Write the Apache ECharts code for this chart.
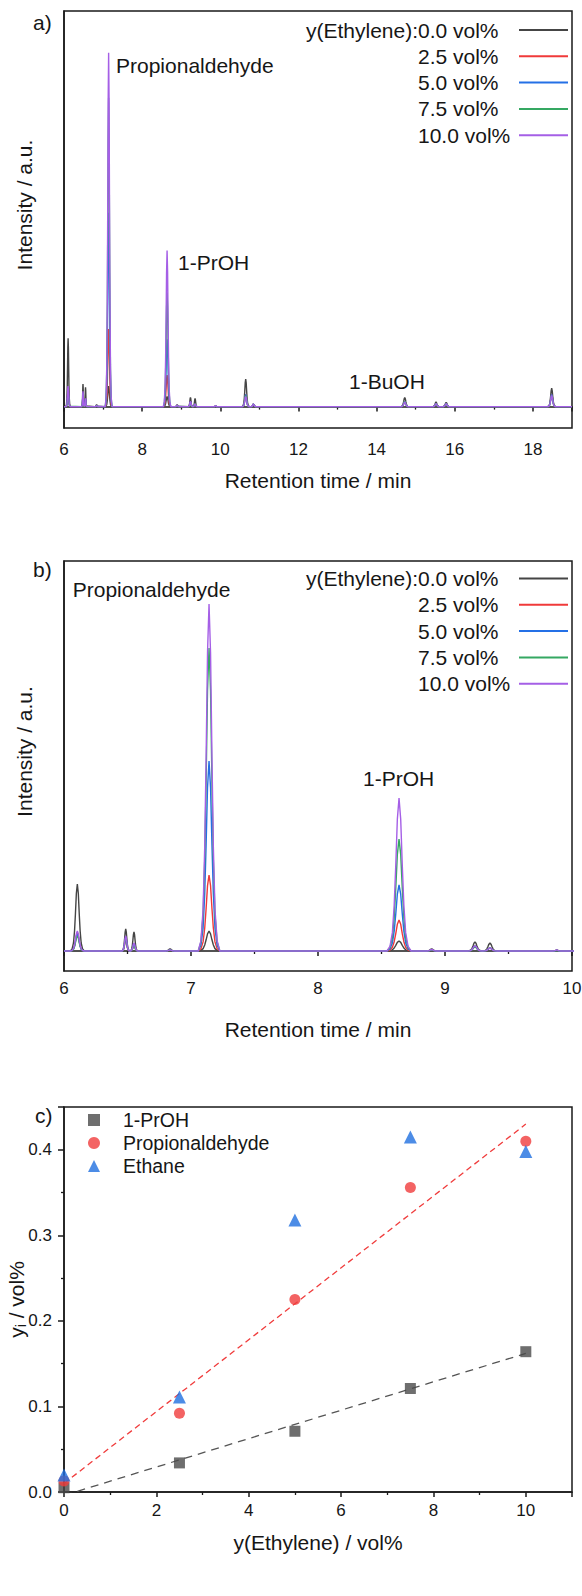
<!DOCTYPE html>
<html><head><meta charset="utf-8">
<script src="https://cdn.jsdelivr.net/npm/echarts@6/dist/echarts.min.js"></script>
<style>html,body{margin:0;padding:0;background:#fff}#c{width:582px;height:1596px}</style>
</head><body><div id="c"></div>
<script>
// ---------- chromatogram data (panels a and b share the same traces) ----------
const concentrations = ['0.0 vol%', '2.5 vol%', '5.0 vol%', '7.5 vol%', '10.0 vol%'];
const traceColors = ['#454545', '#f03a3a', '#2470e6', '#35a862', '#a55fe6'];
const peakTimes      = [6.105, 6.486, 6.551, 6.835, 7.142, 8.638, 8.895, 9.236, 9.354, 9.88, 10.65, 10.85, 14.72, 15.52, 15.78, 18.48];
const peakHalfWidths = [0.055, 0.0325, 0.0325, 0.045, 0.085, 0.095, 0.05, 0.058, 0.058, 0.04, 0.09, 0.06, 0.1, 0.09, 0.09, 0.1];
const heights00  = [67, 22, 19, 2, 20, 10, 2, 9, 8, 1, 27, 2, 9, 4.5, 4, 18];
const heights25  = [18, 11, 6, 1, 76, 31, 1, 5, 3, 0.5, 12, 3, 5, 3, 3, 12];
const heights50  = [17, 13, 7, 1, 190, 66, 1, 5, 3, 0.5, 12, 3, 5, 3, 3, 12];
const heights75  = [15, 13, 5, 1, 303, 112, 1, 4, 3, 0.5, 11, 3, 5, 3, 3, 11];
const heights100 = [20, 15, 8, 1, 347, 153, 1.5, 5, 3, 1, 10, 3, 4.5, 3, 3, 11];
const peakShapeOffsets = [-1, -0.75, -0.55, -0.4, -0.27, -0.14, 0, 0.14, 0.27, 0.4, 0.55, 0.75, 1];
const peakShapeLevels  = [0, 0.03, 0.12, 0.3, 0.56, 0.86, 1, 0.86, 0.56, 0.3, 0.12, 0.03, 0];
const timeRange = [6, 19];

// ---------- panel c data ----------
const ethyleneFeed = [0, 2.5, 5, 7.5, 10];
const propanol = [0.005, 0.034, 0.071, 0.121, 0.164];
const propionaldehyde = [0.013, 0.092, 0.225, 0.356, 0.410];
const ethane = [0.020, 0.111, 0.318, 0.415, 0.398];
const fitX = [0, 10];
const propanolFit = [-0.004, 0.162];
const propionaldehydeFit = [0.010, 0.430];

const FONT = '"Liberation Sans", Arial, sans-serif';
const TXT = '#161616';
const allHeights = [heights00, heights25, heights50, heights75, heights100];

function buildTrace(heights) {
  const pts = [[timeRange[0], 0]];
  peakTimes.forEach((t, p) => {
    peakShapeOffsets.forEach((o, k) => {
      pts.push([t + o * peakHalfWidths[p], heights[p] * peakShapeLevels[k]]);
    });
  });
  pts.push([timeRange[1], 0]);
  return pts;
}

const series = [];
[0, 1].forEach(g => {
  concentrations.forEach((name, i) => {
    series.push({
      type: 'line', name, xAxisIndex: g, yAxisIndex: g,
      data: buildTrace(allHeights[i]), symbol: 'none', smooth: false,
      color: traceColors[i], lineStyle: { width: 1.4, color: traceColors[i] },
      z: 2 + i, silent: true, clip: true
    });
  });
});
const pair = (xs, ys) => xs.map((x, i) => [x, ys[i]]);
series.push(
  { type: 'line', name: 'fit-propionaldehyde', xAxisIndex: 2, yAxisIndex: 2, data: pair(fitX, propionaldehydeFit),
    symbol: 'none', lineStyle: { color: '#f03c3c', width: 1.3, type: [6, 4] }, silent: true, clip: true },
  { type: 'line', name: 'fit-propanol', xAxisIndex: 2, yAxisIndex: 2, data: pair(fitX, propanolFit),
    symbol: 'none', lineStyle: { color: '#555555', width: 1.3, type: [8, 6] }, silent: true, clip: true },
  { type: 'scatter', name: '1-PrOH', xAxisIndex: 2, yAxisIndex: 2, data: pair(ethyleneFeed, propanol),
    symbol: 'rect', symbolSize: 11, itemStyle: { color: '#4a4a4a' }, z: 5 },
  { type: 'scatter', name: 'Propionaldehyde', xAxisIndex: 2, yAxisIndex: 2, data: pair(ethyleneFeed, propionaldehyde),
    symbol: 'circle', symbolSize: 11, itemStyle: { color: '#f03c3c' }, z: 5 },
  { type: 'scatter', name: 'Ethane', xAxisIndex: 2, yAxisIndex: 2, data: pair(ethyleneFeed, ethane),
    symbol: 'triangle', symbolSize: 13, itemStyle: { color: '#1f6fe0' }, z: 6 }
);

const axisLine = { show: true, lineStyle: { color: '#1a1a1a', width: 1.5 } };
const tickStyle = { lineStyle: { color: '#1a1a1a', width: 1.5 } };
const labelStyle = { color: TXT, fontSize: 17, fontFamily: FONT };
const nameStyle = { color: TXT, fontSize: 21, fontFamily: FONT };

function xAxis(grid, min, max, interval, margin, gap, name) {
  return {
    type: 'value', gridIndex: grid, min, max, interval, position: 'bottom',
    axisLine, axisTick: { show: true, length: 5, ...tickStyle },
    minorTick: { show: true, splitNumber: 2, length: 3, lineStyle: { color: '#1a1a1a', width: 1.3 } },
    axisLabel: { ...labelStyle, margin, showMaxLabel: grid !== 1 ? false : true },
    splitLine: { show: false }, minorSplitLine: { show: false },
    name, nameLocation: 'middle', nameGap: gap, nameTextStyle: nameStyle
  };
}
function intensityAxis(grid, min, max) {
  return {
    type: 'value', gridIndex: grid, min, max,
    axisLine, axisTick: { show: false }, axisLabel: { show: false }, splitLine: { show: false },
    name: 'Intensity / a.u.', nameLocation: 'middle', nameGap: 29,
    nameTextStyle: { ...nameStyle, padding: [0, 0, 0, 29] }
  };
}

const legendLines = (top) => ({
  orient: 'vertical', left: 418, top, align: 'right', selectedMode: false, padding: 0,
  icon: 'rect', itemWidth: 49, itemHeight: 2, itemGap: 5.3, data: concentrations,
  formatter: '{v|{name}}',
  textStyle: { rich: { v: { width: 96, align: 'left', fontSize: 21, fontFamily: FONT, color: TXT } } }
});

const text = (x, y, t, align) => ({
  type: 'text', x, y, silent: true,
  style: { text: t, font: '21px ' + FONT, fill: TXT, align: align || 'left', verticalAlign: 'middle' }
});

const gridBase = { left: 64, width: 508, show: true, borderColor: '#1a1a1a', borderWidth: 1.5,
  containLabel: false, outerBoundsMode: 'none' };

const option = {
  animation: false,
  backgroundColor: '#ffffff',
  grid: [
    { ...gridBase, top: 11, height: 417 },
    { ...gridBase, top: 561, height: 410 },
    { ...gridBase, top: 1107, height: 385 }
  ],
  xAxis: [
    xAxis(0, 6, 19, 2, 13, 42, 'Retention time / min'),
    xAxis(1, 6, 10, 1, 9, 48, 'Retention time / min'),
    xAxis(2, 0, 11, 2, 10, 40, 'y(Ethylene) / vol%')
  ],
  yAxis: [
    intensityAxis(0, -21, 388),
    intensityAxis(1, -20, 390),
    {
      type: 'value', gridIndex: 2, min: 0, max: 0.45, interval: 0.1,
      axisLine, axisTick: { show: true, length: 6, ...tickStyle },
      minorTick: { show: true, splitNumber: 2, length: 3, lineStyle: { color: '#1a1a1a', width: 1.3 } },
      axisLabel: { ...labelStyle, margin: 12, showMaxLabel: false, formatter: v => v.toFixed(1) },
      splitLine: { show: false },
      name: '{a|y}{s|i}{a| / vol%}', nameLocation: 'middle', nameGap: 36, nameMoveOverlap: false,
      nameTextStyle: { rich: {
        a: { fontSize: 21, lineHeight: 24, fontFamily: FONT, color: TXT },
        s: { fontSize: 14, lineHeight: 14, verticalAlign: 'bottom', fontFamily: FONT, color: TXT }
      } }
    }
  ],
  legend: [
    legendLines(19.5),
    legendLines(568),
    {
      orient: 'vertical', left: 88, top: 1110, selectedMode: false, padding: 0,
      itemWidth: 12, itemHeight: 12, itemGap: 3,
      data: ['1-PrOH', 'Propionaldehyde', 'Ethane'],
      textStyle: { fontSize: 19.5, fontFamily: FONT, color: TXT, padding: [0, 0, 0, 18] }
    }
  ],
  graphic: [
    text(33, 22, 'a)'), text(33, 569, 'b)'), text(35, 1115, 'c)'),
    text(418, 30, 'y(Ethylene):', 'right'), text(418, 578.3, 'y(Ethylene):', 'right'),
    text(116, 65, 'Propionaldehyde'), text(178, 262, '1-PrOH'), text(349, 381, '1-BuOH'),
    text(72.7, 589, 'Propionaldehyde'), text(363, 778, '1-PrOH')
  ],
  series
};

const chart = echarts.init(document.getElementById('c'), null, { renderer: 'svg', width: 582, height: 1596 });
chart.setOption(option);
</script>
</body></html>
